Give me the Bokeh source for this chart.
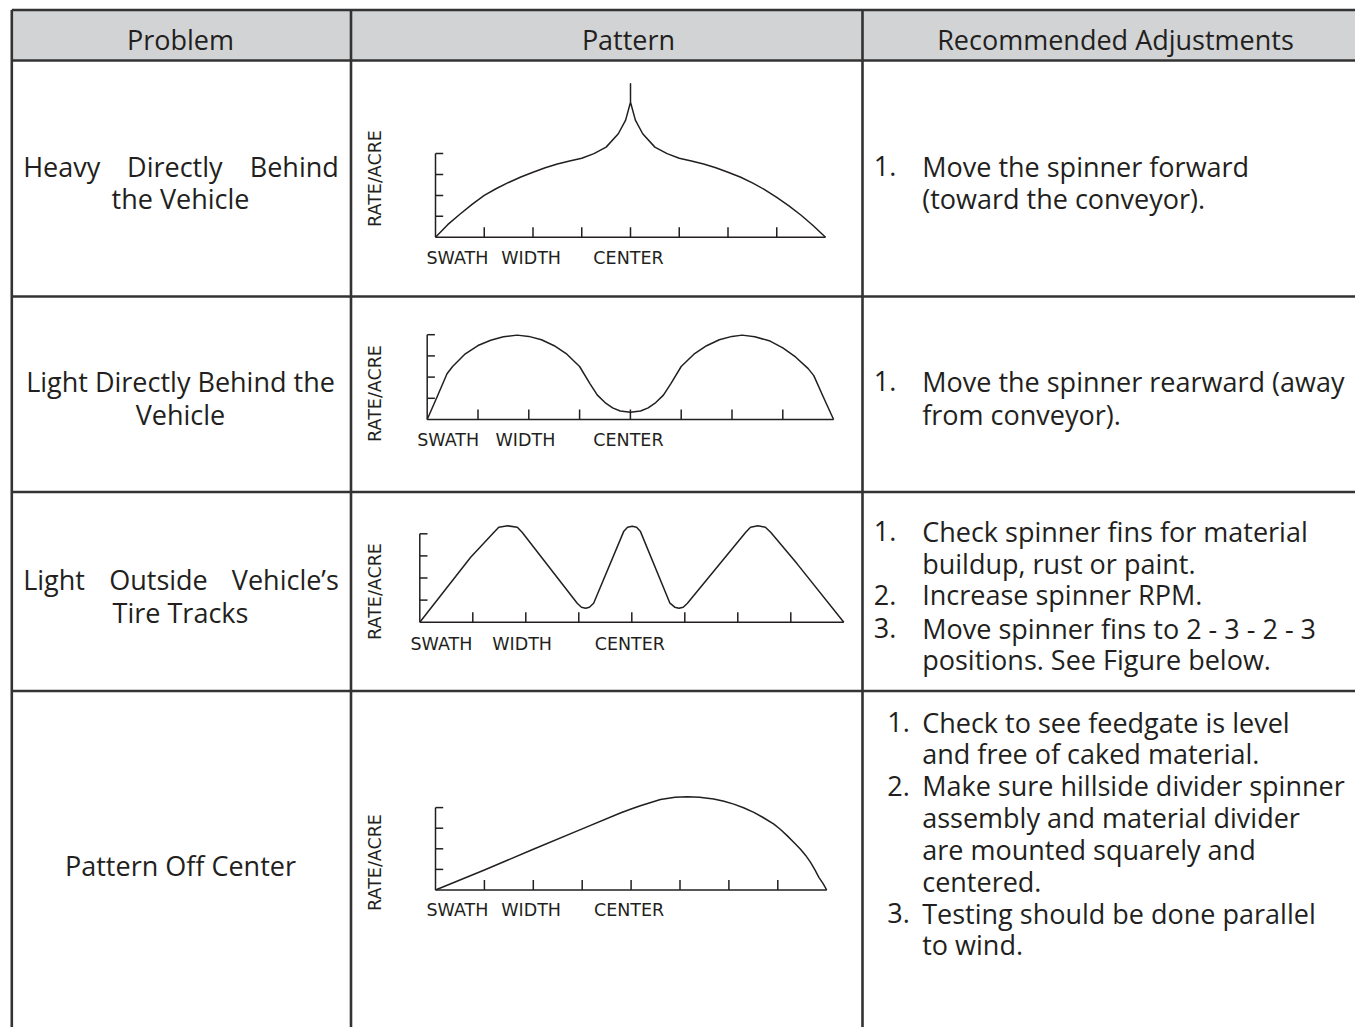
import numpy as np
from bokeh.plotting import figure
from bokeh.models import Range1d
from bokeh.core.properties import value
from bokeh.embed import file_html
from bokeh.resources import INLINE

# ---------------- data ----------------
headers = ["Problem", "Pattern", "Recommended Adjustments"]

x_ticks = [1, 2, 3, 4, 5, 6, 7]
y_ticks = [1, 2, 3, 4]

# Heavy directly behind the vehicle
heavy_x = [0, 0.25, 0.5, 0.75, 1, 1.25, 1.5, 1.75, 2, 2.25, 2.5, 2.75, 3, 3.25, 3.5, 3.75, 3.9, 4, 4, 4,
           4.1, 4.25, 4.5, 4.75, 5, 5.25, 5.5, 5.75, 6, 6.25, 6.5, 6.75, 7, 7.25, 7.5, 7.75, 8]
heavy_y = [0, 0.6, 1.1, 1.57, 2.0, 2.33, 2.62, 2.88, 3.11, 3.32, 3.5, 3.65, 3.78, 4.0, 4.31, 4.95, 5.6, 6.46, 7.34, 6.46,
           5.6, 4.95, 4.31, 4.0, 3.78, 3.65, 3.5, 3.32, 3.11, 2.88, 2.6, 2.28, 1.9, 1.5, 1.05, 0.55, 0]

# Light directly behind the vehicle
light_x = [0, 0.2, 0.39, 0.5, 0.75, 1.0, 1.25, 1.5, 1.77, 2.0, 2.25, 2.5, 2.75, 3.0, 3.2, 3.35, 3.5, 3.65, 3.8, 4.0,
           4.2, 4.35, 4.5, 4.65, 4.8, 5.0, 5.25, 5.5, 5.75, 6.0, 6.2, 6.45, 6.75, 7.0, 7.25, 7.5, 7.61, 7.8, 8.0]
light_y = [0, 1.1, 2.16, 2.5, 3.1, 3.49, 3.74, 3.9, 3.98, 3.92, 3.76, 3.48, 3.08, 2.5, 1.7, 1.15, 0.8, 0.55, 0.4, 0.34,
           0.4, 0.55, 0.8, 1.15, 1.7, 2.5, 3.08, 3.48, 3.76, 3.92, 3.98, 3.9, 3.7, 3.38, 2.95, 2.4, 2.07, 1.05, 0]

# Light outside vehicle's tire tracks
tire_x = [0, 0.96, 1.40, 1.49, 1.66, 1.84, 1.93, 2.97, 3.05, 3.13, 3.20, 3.28, 3.85, 3.92, 4.01, 4.09, 4.16,
          4.72, 4.81, 4.89, 4.97, 5.05, 6.15, 6.24, 6.38, 6.52, 6.62, 7.12, 8.0]
tire_y = [0, 2.94, 4.07, 4.30, 4.36, 4.30, 4.07, 0.86, 0.68, 0.63, 0.68, 0.86, 4.12, 4.30, 4.34, 4.30, 4.12,
          0.86, 0.68, 0.63, 0.68, 0.86, 4.07, 4.30, 4.36, 4.30, 4.07, 2.64, 0]

# Pattern off center
off_x = [0, 1, 2, 3, 3.78, 4.0, 4.19, 4.6, 4.9, 5.15, 5.4, 5.69, 5.9, 6.1, 6.3, 6.51, 6.7, 6.92, 7.05, 7.19,
         7.32, 7.46, 7.57, 7.67, 7.76, 7.84, 7.93, 8.0]
off_y = [0, 0.97, 1.98, 2.97, 3.74, 3.93, 4.09, 4.39, 4.5, 4.53, 4.5, 4.42, 4.31, 4.17, 3.99, 3.77, 3.52, 3.20, 2.95, 2.64,
         2.33, 1.99, 1.68, 1.34, 0.98, 0.61, 0.3, 0]

patterns = [(heavy_x, heavy_y), (light_x, light_y), (tire_x, tire_y), (off_x, off_y)]

# ---------------- layout ----------------
W, H = 1355, 1027
X0, Y0 = 0, 0
INK = "#231f20"
BORDER = "#333333"
BODY_FONT = value("Open Sans")
LBL_FONT = value("DejaVu Sans")
FS_PX = 27
LB_PX = 17.5
B_OFF = 0.4 * FS_PX     # rendered baseline sits this far below the given y
L_OFF = 0.4 * LB_PX

p = figure(width=W, height=H, output_backend="svg", toolbar_location=None,
           x_range=Range1d(X0, X0 + W), y_range=Range1d(Y0 + H, Y0),
           min_border=0, min_border_left=0, min_border_right=0,
           min_border_top=0, min_border_bottom=0)
p.xaxis.visible = False
p.yaxis.visible = False
p.xgrid.visible = False
p.ygrid.visible = False
p.outline_line_color = None
p.background_fill_color = "white"
p.border_fill_color = "white"

# table
top, hdr, rows = 9.5, 60, [296, 491.5, 690.5]
left, c1, c2, right, bottom = 11.3, 350.5, 862, X0 + W, Y0 + H
p.quad(left=[left], right=[right], top=[top], bottom=[hdr], fill_color="#d1d3d4", line_color=None)
p.segment(x0=[left] * 5, x1=[right] * 5, y0=[top, hdr] + rows, y1=[top, hdr] + rows,
          line_color=BORDER, line_width=2.6)
p.segment(x0=[left, c1, c2], x1=[left, c1, c2], y0=[top] * 3, y1=[bottom] * 3,
          line_color=BORDER, line_width=2.6)

FS = f"{FS_PX}px"
def body(xs, ys, txt, align):
    p.text(x=xs, y=[v - B_OFF for v in ys], text=txt, text_font=BODY_FONT, text_font_size=FS,
           text_align=align, text_baseline="alphabetic", text_color=INK)

# headers
body([180, 628, 1115], [49.3] * 3, headers, "center")

# problem column
body([22.7, 22.7], [176.7, 590], ["Heavy", "Light"], "left")
body([174.3, 158], [176.7, 590], ["Directly", "Outside"], "center")
body([338.3, 338.3], [176.7, 590], ["Behind", "Vehicle\u2019s"], "right")
body([180] * 5, [208.3, 391.7, 424.3, 622.7, 876],
     ["the Vehicle", "Light Directly Behind the", "Vehicle", "Tire Tracks", "Pattern Off Center"], "center")

# adjustments column
num_x = [873.3, 873.3, 873.3, 873.3, 873.3, 886.7, 886.7, 886.7]
num_y = [176.7, 391.7, 541.7, 605, 638.3, 732.7, 796, 923.3]
nums = ["1.", "1.", "1.", "2.", "3.", "1.", "2.", "3."]
body(num_x, num_y, nums, "left")
adj_lines = ["Move the spinner forward", "(toward the conveyor).",
             "Move the spinner rearward (away", "from conveyor).",
             "Check spinner fins for material", "buildup, rust or paint.", "Increase spinner RPM.",
             "Move spinner fins to 2 - 3 - 2 - 3", "positions. See Figure below.",
             "Check to see feedgate is level", "and free of caked material.",
             "Make sure hillside divider spinner", "assembly and material divider",
             "are mounted squarely and", "centered.", "Testing should be done parallel", "to wind."]
adj_y = [176.7, 208.3, 391.7, 425, 541.7, 573.3, 605, 638.3, 670,
         732.7, 764, 796, 827.7, 859.3, 891.3, 923.3, 955]
body([921.7] * len(adj_lines), adj_y, adj_lines, "left")

# pattern mini charts: origin px, px per x unit, px per y unit, label offsets
charts = [
    dict(x0=435.0, y0=236.7, dx=48.75, dy=20.9, ra=178, sw=-9, wd=65.7, lb=27.3),
    dict(x0=426.7, y0=419.0, dx=50.8, dy=21.2, ra=393, sw=-10, wd=68.3, lb=27.7),
    dict(x0=419.3, y0=621.7, dx=53.0, dy=22.1, ra=591, sw=-9.3, wd=72.4, lb=29.0),
    dict(x0=435.0, y0=889.5, dx=48.9, dy=20.6, ra=862, sw=-9, wd=65.7, lb=26.7),
]
LB = f"{LB_PX}px"
for i, (c, (px, py)) in enumerate(zip(charts, patterns)):
    nm = f"c{i}"
    p.extra_x_ranges[nm] = Range1d((X0 - c["x0"]) / c["dx"], (X0 + W - c["x0"]) / c["dx"])
    p.extra_y_ranges[nm] = Range1d(-(Y0 + H - c["y0"]) / c["dy"], (c["y0"] - Y0) / c["dy"])
    kw = dict(x_range_name=nm, y_range_name=nm, line_color=INK, line_width=1.5)
    # axes
    p.line(x=[0, 8], y=[0, 0], **kw)
    p.line(x=[0, 0], y=[0, 4], **kw)
    tl_x = 10 / c["dy"]
    tl_y = 7.7 / c["dx"]
    p.segment(x0=x_ticks, x1=x_ticks, y0=[0] * len(x_ticks), y1=[tl_x] * len(x_ticks), **kw)
    p.segment(x0=[0] * len(y_ticks), x1=[tl_y] * len(y_ticks), y0=y_ticks, y1=y_ticks, **kw)
    # pattern curve
    p.line(x=px, y=py, line_join="round", **kw)
    # labels
    by = c["y0"] + c["lb"] - L_OFF
    p.text(x=[c["x0"] + c["sw"], c["x0"] + c["wd"]], y=[by, by], text=["SWATH", "WIDTH"],
           text_font=LBL_FONT, text_font_size=LB, text_align="left", text_baseline="alphabetic",
           text_color=INK)
    p.text(x=[c["x0"] + 4 * c["dx"] - 2], y=[by], text=["CENTER"],
           text_font=LBL_FONT, text_font_size=LB, text_align="center", text_baseline="alphabetic",
           text_color=INK)
    p.text(x=[374], y=[c["ra"]], text=["RATE/ACRE"], angle=np.pi / 2,
           text_font=LBL_FONT, text_font_size=LB, text_align="center", text_baseline="middle",
           text_color=INK)

open("out.html", "w").write(file_html(p, INLINE))
